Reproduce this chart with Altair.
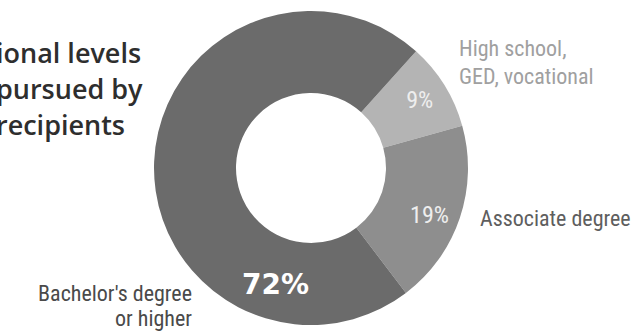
import altair as alt
import pandas as pd

# ---- data ----
categories = ["High school, GED, vocational", "Associate degree", "Bachelor's degree or higher"]
values = [9, 19, 72]
order = [1, 2, 3]
pct_labels = ["9%", "19%", "72%"]
label_at = [4.5, 19.5, 43.0]          # where along the ring (0-100) each % label sits
colors = ["#b4b4b4", "#8e8e8e", "#6b6b6b"]

title_text = "ional levels\npursued by\nrecipients"
hs_label = "High school,\nGED, vocational"
assoc_label = "Associate degree"
ba_label = "Bachelor's degree\nor higher"

START = 0.733  # radians, clockwise from 12 o'clock
TWO_PI = 6.283185307

df = pd.DataFrame({
    "category": categories,
    "value": values,
    "order": order,
    "pct": pct_labels,
    "label_at": label_at,
})

CX, CY = 311, 168

theta_scale = alt.Scale(domain=[0, 100], range=[START, START + TWO_PI])
color_scale = alt.Scale(domain=categories, range=colors)

base = alt.Chart(df)

ring = base.mark_arc(innerRadius=75, outerRadius=157).encode(
    theta=alt.Theta("value:Q", stack=True, scale=theta_scale),
    order=alt.Order("order:Q"),
    color=alt.Color("category:N", scale=color_scale, legend=None),
    x=alt.value(CX),
    y=alt.value(CY),
)

cond_font = "Roboto Condensed, Roboto"

small_pct = base.transform_filter(alt.datum.value < 50).mark_text(
    radius=128, font=cond_font, fontSize=24, color="#eeeeee", baseline="middle", align="center"
).encode(
    theta=alt.Theta("label_at:Q", stack=None, scale=theta_scale),
    text="pct:N",
    x=alt.value(CX),
    y=alt.value(CY),
)

big_pct = base.transform_filter(alt.datum.value >= 50).mark_text(
    radius=123, font="DejaVu Sans", fontWeight="bold", fontSize=28, color="#ffffff",
    baseline="middle", align="center"
).encode(
    theta=alt.Theta("label_at:Q", stack=None, scale=theta_scale),
    text="pct:N",
    x=alt.value(CX),
    y=alt.value(CY),
)

ann = pd.DataFrame({"t": [0]})
ann_base = alt.Chart(ann)

title = ann_base.mark_text(
    text=title_text.split("\n"), font="Open Sans", fontWeight=600, fontSize=27,
    color="#2e2e2e", align="left", baseline="alphabetic", lineHeight=36
).encode(x=alt.value(-4), y=alt.value(63))

hs = ann_base.mark_text(
    text=hs_label.split("\n"), font=cond_font, fontSize=22, color="#a0a0a0",
    align="left", baseline="alphabetic", lineHeight=28
).encode(x=alt.value(459), y=alt.value(56))

assoc = ann_base.mark_text(
    text=assoc_label, font=cond_font, fontSize=22, color="#5e5e5e",
    align="left", baseline="alphabetic"
).encode(x=alt.value(480), y=alt.value(226))

ba = ann_base.mark_text(
    text=ba_label.split("\n"), font=cond_font, fontSize=22, color="#4a4a4a",
    align="right", baseline="alphabetic", lineHeight=25
).encode(x=alt.value(192), y=alt.value(301))

chart = alt.layer(ring, small_pct, big_pct, title, hs, assoc, ba).properties(
    width=642, height=335, padding=0, autosize=alt.AutoSizeParams(type="none"),
    background="#ffffff",
).configure_view(stroke=None)

chart.save("out.html", embed_options={"renderer": "svg", "actions": False})
